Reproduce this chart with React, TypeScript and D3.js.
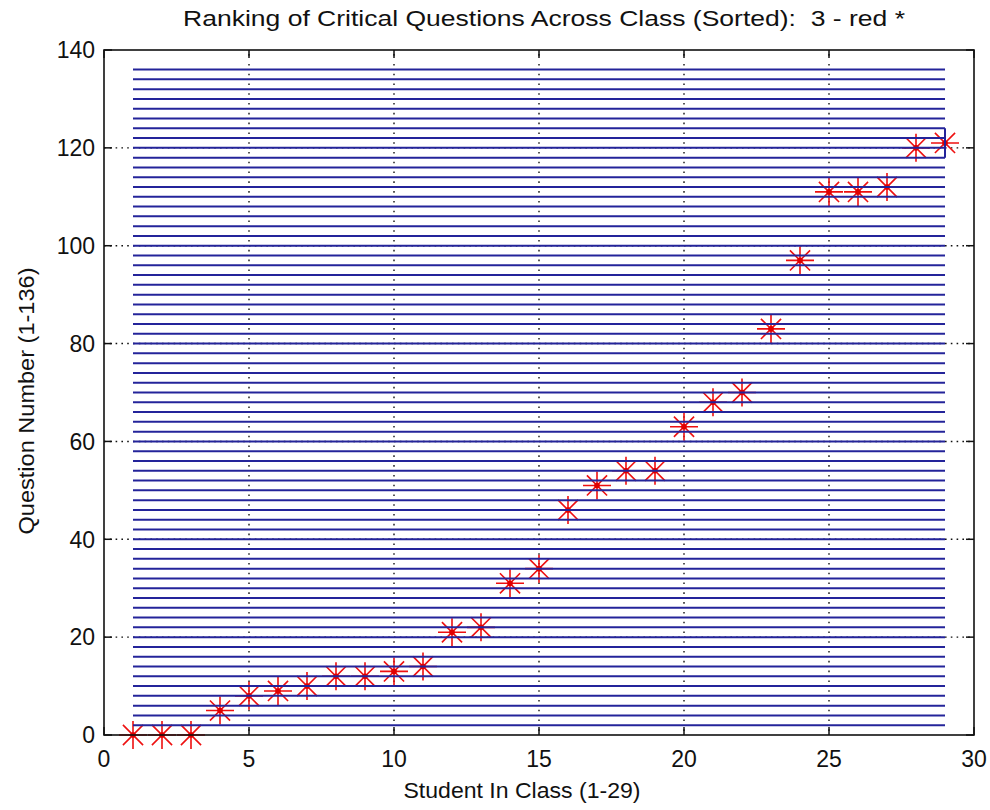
import React from "react";
import * as d3 from "d3";

const students = [1, 2, 3, 4, 5, 6, 7, 8, 9, 10, 11, 12, 13, 14, 15, 16, 17, 18, 19, 20, 21, 22, 23, 24, 25, 26, 27, 28, 29];
const questions = [0, 0, 0, 5, 8, 9, 10, 12, 12, 13, 14, 21, 22, 31, 34, 46, 51, 54, 54, 63, 68, 70, 83, 97, 111, 111, 112, 120, 121];
const lineLevels = [
  2, 4, 6, 8, 10, 12, 14, 16, 18, 20, 22, 24, 26, 28, 30, 32, 34, 36, 38, 40,
  42, 44, 46, 48, 50, 52, 54, 56, 58, 60, 62, 64, 66, 68, 70, 72, 74, 76, 78, 80,
  82, 84, 86, 88, 90, 92, 94, 96, 98, 100, 102, 104, 106, 108, 110, 112, 114, 116, 118, 120,
  122, 124, 126, 128, 130, 132, 134, 136,
];
const lineSpan = [1, 29];
const connectorX = [29];
const connectorY = [118, 124];
const xTicks = [0, 5, 10, 15, 20, 25, 30];
const yTicks = [0, 20, 40, 60, 80, 100, 120, 140];
const title = "Ranking of Critical Questions Across Class (Sorted):  3 - red *";
const xLabel = "Student In Class (1-29)";
const yLabel = "Question Number (1-136)";

const W = 990;
const H = 810;
const L = 104, R = 974, T = 50, B = 735;
const FONT = "'Liberation Sans', Arial, sans-serif";

export default function App() {
  const x = d3.scaleLinear().domain([0, 30]).range([L, R]);
  const y = d3.scaleLinear().domain([0, 140]).range([B, T]);
  const rS = 14;
  const d = rS * 0.72;
  const tick = 8;
  const period = y(0) - y(2);
  const dotLen = 1.6;
  const firstDot = y(0) - y(1) - dotLen / 2;

  const starPath = (cx: number, cy: number) =>
    `M${cx - rS},${cy}L${cx + rS},${cy}M${cx},${cy - rS}L${cx},${cy + rS}` +
    `M${cx - d},${cy - d}L${cx + d},${cy + d}M${cx - d},${cy + d}L${cx + d},${cy - d}`;

  return (
    <svg width={W} height={H} style={{ position: "absolute", left: 0, top: 0, background: "#fff" }}>
      <rect x={0} y={0} width={W} height={H} fill="#ffffff" />
      <rect x={L} y={T} width={R - L} height={B - T} fill="#ffffff" />
      {/* grid */}
      {xTicks.filter((t) => t > 0 && t < 30).map((t) => (
        <line key={"gx" + t} x1={x(t)} x2={x(t)} y1={y(0)} y2={y(140)} stroke="#111" strokeWidth={1.4}
          strokeDasharray={`${dotLen},${period - dotLen}`} strokeDashoffset={period - firstDot} />
      ))}
      {yTicks.filter((t) => t > 0 && t < 140).map((t) => (
        <line key={"gy" + t} x1={x(0)} x2={x(30)} y1={y(t)} y2={y(t)} stroke="#111" strokeWidth={1.4}
          strokeDasharray="1.6,4.2" />
      ))}
      {/* stars */}
      {students.map((s, i) => (
        <g key={"s" + s}>
          <path d={starPath(x(s), y(questions[i]))} stroke="#ee1010" strokeWidth={1.6} fill="none" />
          <circle cx={x(s)} cy={y(questions[i])} r={2.8} fill="#e00000" />
        </g>
      ))}
      {/* blue lines */}
      {lineLevels.map((v) => (
        <line key={"l" + v} x1={x(lineSpan[0])} x2={x(lineSpan[1])} y1={y(v)} y2={y(v)} stroke="#24249a" strokeWidth={2} />
      ))}
      <line x1={x(connectorX[0])} x2={x(connectorX[0])} y1={y(connectorY[0])} y2={y(connectorY[1])} stroke="#24249a" strokeWidth={2} />
      {/* ticks */}
      {xTicks.map((t) => (
        <g key={"xt" + t}>
          <line x1={x(t)} x2={x(t)} y1={B} y2={B - tick} stroke="#111" strokeWidth={1.5} />
          <line x1={x(t)} x2={x(t)} y1={T} y2={T + tick} stroke="#111" strokeWidth={1.5} />
          <text x={x(t)} y={767} textAnchor="middle" fontFamily={FONT} fontSize={23} fill="#111">{t}</text>
        </g>
      ))}
      {yTicks.map((t) => (
        <g key={"yt" + t}>
          <line x1={L} x2={L + tick} y1={y(t)} y2={y(t)} stroke="#111" strokeWidth={1.5} />
          <line x1={R} x2={R - tick} y1={y(t)} y2={y(t)} stroke="#111" strokeWidth={1.5} />
          <text x={95} y={y(t)} dy="0.36em" textAnchor="end" fontFamily={FONT} fontSize={23} fill="#111">{t}</text>
        </g>
      ))}
      <rect x={L} y={T} width={R - L} height={B - T} fill="none" stroke="#111" strokeWidth={1.6} />
      <text x={544} y={26} textAnchor="middle" fontFamily={FONT} fontSize={22} fill="#111"
        style={{ whiteSpace: "pre" }} textLength={722} lengthAdjust="spacingAndGlyphs">{title}</text>
      <text x={(L + R) / 2 - 17} y={798} textAnchor="middle" fontFamily={FONT} fontSize={22} fill="#111"
        textLength={237} lengthAdjust="spacingAndGlyphs">{xLabel}</text>
      <text transform={`translate(34,${401}) rotate(-90)`} textAnchor="middle" fontFamily={FONT} fontSize={22} fill="#111"
        textLength={267} lengthAdjust="spacingAndGlyphs">{yLabel}</text>
    </svg>
  );
}
